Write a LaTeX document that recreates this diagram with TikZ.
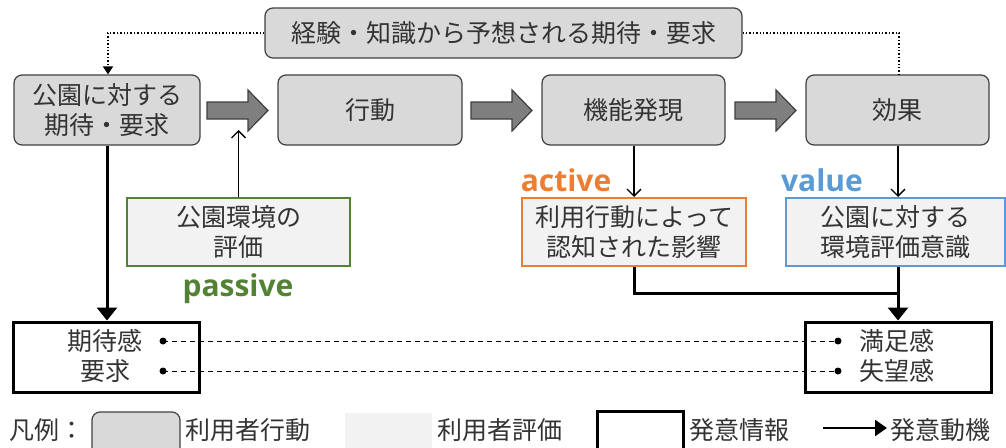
\documentclass[tikz,border=0pt]{standalone}
\usepackage{fontspec}
\setmainfont{Noto Sans CJK JP}
\newfontfamily\latb{Open Sans}
\usetikzlibrary{arrows.meta}
\definecolor{boxgray}{HTML}{D9D9D9}
\definecolor{lightbox}{HTML}{F2F2F2}
\definecolor{dgray}{HTML}{404040}
\definecolor{agray}{HTML}{7F7F7F}
\definecolor{pgreen}{HTML}{548235}
\definecolor{aorange}{HTML}{ED7D31}
\definecolor{vblue}{HTML}{5B9BD5}
\definecolor{txt}{HTML}{333333}
\tikzset{
  jp/.style={font=\fontsize{25}{30}\selectfont, text=txt},
  actbox/.style={jp, draw=dgray, fill=boxgray, rounded corners=8, line width=1.2,
    minimum height=70, align=center, inner sep=0},
  evalbox/.style={jp, fill=lightbox, line width=2, minimum height=68, align=center, inner sep=0},
  infobox/.style={jp, draw=black, line width=3, minimum width=186, minimum height=70, align=center, inner sep=0},
  blk/.style={draw=dgray, fill=agray, line width=1.2, line join=miter},
  thinarr/.style={draw=black, line width=1.3, -{Straight Barb[length=7,width=14,line width=1.3]}},
  thick/.style={draw=black, line width=3},
  thickarr/.style={thick, -{Triangle[length=13,width=20]}},
  dotln/.style={draw=black, line width=1.4, dotted},
  dashln/.style={draw=black, line width=1, dashed, dash pattern=on 5pt off 4pt},
  lbl/.style={font=\latb\bfseries\fontsize{30}{30}\selectfont},
  leg/.style={jp, anchor=west, inner sep=0}
}
\begin{document}
\begin{tikzpicture}[x=1pt,y=-1pt]
\useasboundingbox (0,0) rectangle (1006,447);

% top box
\node[actbox, minimum width=477, minimum height=50] (top) at (503.5,33) {経験・知識から予想される期待・要求};

% action boxes
\node[actbox, minimum width=186] (b1) at (107,110) {公園に対する\\期待・要求};
\node[actbox, minimum width=184] (b2) at (370,110) {行動};
\node[actbox, minimum width=183] (b3) at (633.5,110) {機能発現};
\node[actbox, minimum width=183] (b4) at (897.5,110) {効果};

% block arrows
\foreach \xa/\xb in {207/268, 471/532, 735/796}{
  \filldraw[blk] (\xa,102) -- (\xb-20,102) -- (\xb-20,90) -- (\xb,110.5) -- (\xb-20,131) -- (\xb-20,119) -- (\xa,119) -- cycle;
}

% evaluation boxes
\node[evalbox, draw=pgreen, minimum width=223] (g) at (238.5,232) {公園環境の\\評価};
\node[evalbox, draw=aorange, minimum width=224] (o) at (634,232) {利用行動によって\\認知された影響};
\node[evalbox, draw=vblue, minimum width=219] (v) at (895.5,232) {公園に対する\\環境評価意識};

\node[lbl, text=pgreen] (lp) at (238,289) {passive};
\node[lbl, text=aorange] (la) at (566,180) {active};
\node[lbl, text=vblue] (lv) at (822,180) {value};

% info boxes
\node[infobox] (L) at (106,357) {};
\node[infobox] (R) at (898,357) {};
\node[jp, inner sep=0] (l1) at (105,341) {期待感};
\node[jp, inner sep=0] (l2) at (105,371) {要求};
\node[jp, inner sep=0] (r1) at (897,341) {満足感};
\node[jp, inner sep=0] (r2) at (897,371) {失望感};

% dotted feedback
\coordinate (tl) at (108,33);
\coordinate (tr) at (899,33);
\draw[dotln, -{Triangle[length=8,width=10]}] (top.west) -- (tl) -- (b1.north -| tl);
\draw[dotln] (top.east) -- (tr) -- (b4.north -| tr);

% thin arrows
\coordinate (gtip) at (238.5,130);
\draw[thinarr] (g.north) -- (gtip);
\draw[thinarr] (b3.south -| o.north) -- (o.north);
\coordinate (vx) at (898,0);
\draw[thinarr] (b4.south -| vx) -- (v.north -| vx);

% thick arrows
\draw[thickarr] (b1.south) -- (L.north -| b1.south);
\coordinate (j) at (898,293);
\draw[thick, line join=miter] (o.south) |- (j);
\draw[thick] (v.south -| j) -- (j);
\draw[thickarr] (j) -- (R.north);

% dashed links
\coordinate (d1) at (163,341);
\coordinate (d2) at (163,371);
\coordinate (e1) at (838,341);
\coordinate (e2) at (838,371);
\draw[dashln] (d1) -- (e1);
\draw[dashln] (d2) -- (e2);
\foreach \p in {d1,d2,e1,e2}{\fill[black] (\p) circle (3.5);}

% legend
\node[leg] (lg0) at (9,430) {凡例：};
\draw[draw=dgray, fill=boxgray, rounded corners=8, line width=1.2] (92,412) rectangle (180,460);
\node[leg] (lg1) at (185,430) {利用者行動};
\fill[lightbox] (345,413) rectangle (432,460);
\node[leg] (lg2) at (437,430) {利用者評価};
\draw[black, line width=3] (597,411) rectangle (683,460);
\node[leg] (lg3) at (689,430) {発意情報};
\coordinate (la1) at (823,428);
\coordinate (la2) at (887,428);
\draw[thick, line width=2.5, -{Triangle[length=12,width=16]}] (la1) -- (la2);
\node[leg] (lg4) at (890,430) {発意動機};
\end{tikzpicture}
\end{document}
